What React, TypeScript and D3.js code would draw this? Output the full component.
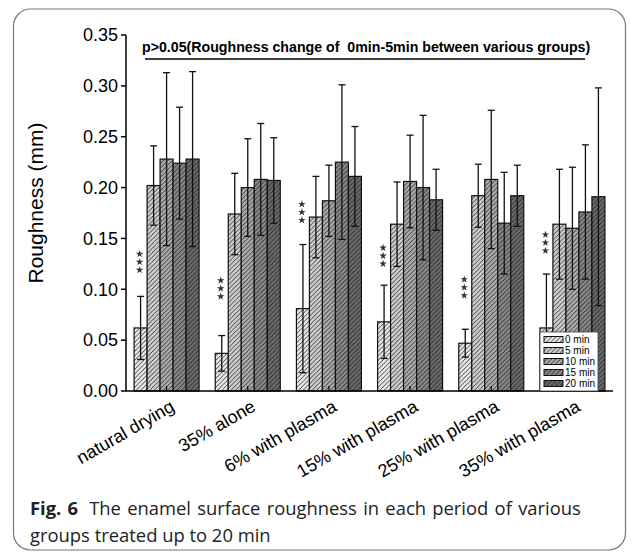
import React from 'react';
import * as d3 from 'd3';

// values (mm)
const groups = ['natural drying', '35% alone', '6% with plasma', '15% with plasma', '25% with plasma', '35% with plasma'];
const series = ['0 min', '5 min', '10 min', '15 min', '20 min'];
const means = [
  [0.062, 0.202, 0.228, 0.224, 0.228],
  [0.037, 0.174, 0.2, 0.208, 0.207],
  [0.081, 0.171, 0.187, 0.225, 0.211],
  [0.068, 0.164, 0.206, 0.2, 0.188],
  [0.047, 0.192, 0.208, 0.165, 0.192],
  [0.062, 0.164, 0.16, 0.176, 0.191],
];
const sds = [
  [0.031, 0.039, 0.085, 0.055, 0.086],
  [0.0175, 0.04, 0.048, 0.055, 0.042],
  [0.063, 0.04, 0.035, 0.076, 0.049],
  [0.036, 0.0415, 0.0455, 0.071, 0.03],
  [0.0137, 0.031, 0.068, 0.05, 0.03],
  [0.053, 0.054, 0.06, 0.066, 0.107],
];
// level (mm) of the lowest "*" of the *** mark over the 0 min bar
const starLevels = [0.119, 0.093, 0.168, 0.125, 0.094, 0.138];
const yTicks = [0, 0.05, 0.1, 0.15, 0.2, 0.25, 0.3, 0.35];
const title = 'p>0.05(Roughness change of  0min-5min between various groups)';
const fills = ['#e8e8e8', '#cdcdcd', '#aaaaaa', '#878787', '#686868'];

const W = 634;
const H = 555;
const margin = { left: 126, right: 21, top: 35, bottom: 164 };
const font = 'Liberation Sans, Arial, sans-serif';
const capFont = 'Open Sans, Noto Sans, sans-serif';

const App = () => {
  const x0 = d3.scaleBand().domain(groups).range([margin.left, W - margin.right]);
  const bw = x0.bandwidth();
  const x1 = d3.scaleBand().domain(series).range([(bw - 65) / 2, (bw + 65) / 2]);
  const y = d3.scaleLinear().domain([0, 0.35]).range([H - margin.bottom, margin.top]);
  const star = d3.symbol(d3.symbolStar, 18)();
  const fmt = d3.format('.2f');
  const base = y(0);

  return (
    <svg width={W} height={H} style={{ position: 'absolute', left: 0, top: 0 }} fontFamily={font}>
      <defs>
        {fills.map((f, i) => (
          <pattern key={i} id={`hatch${i}`} patternUnits="userSpaceOnUse" width={4.5} height={4.5}>
            <rect width={4.5} height={4.5} fill={f} />
            <path d="M0,4.5 L4.5,0 M-1,1 L1,-1 M3.5,5.5 L5.5,3.5" stroke="#1a1a1a" strokeWidth={0.8} />
          </pattern>
        ))}
      </defs>
      <rect x={13.5} y={9} width={612} height={541} rx={17} fill="none" stroke="#777" strokeWidth={1.2} />

      {/* bars */}
      {groups.map((g, gi) => (
        <g key={g} transform={`translate(${x0(g)},0)`}>
          {series.map((s, si) => (
            <rect key={s} x={x1(s)} y={y(means[gi][si])} width={x1.bandwidth()}
              height={base - y(means[gi][si])} fill={`url(#hatch${si})`} stroke="#111" strokeWidth={1.2} />
          ))}
        </g>
      ))}

      {/* error bars */}
      {groups.map((g, gi) => (
        <g key={g} transform={`translate(${x0(g)},0)`} stroke="#111" strokeWidth={1.3}>
          {series.map((s, si) => {
            const cx = (x1(s) as number) + x1.bandwidth() / 2;
            const hi = y(means[gi][si] + sds[gi][si]);
            const lo = y(Math.max(0, means[gi][si] - sds[gi][si]));
            return (
              <g key={s}>
                <line x1={cx} x2={cx} y1={hi} y2={lo} />
                <line x1={cx - 3.5} x2={cx + 3.5} y1={hi} y2={hi} />
                <line x1={cx - 3.5} x2={cx + 3.5} y1={lo} y2={lo} />
              </g>
            );
          })}
        </g>
      ))}

      {/* significance stars */}
      {groups.map((g, gi) => {
        const cx = (x0(g) as number) + (x1(series[0]) as number) + x1.bandwidth() / 2 - 1;
        return [0, 1, 2].map(k => (
          <path key={`${g}${k}`} d={star as string} fill="#333"
            transform={`translate(${cx},${y(starLevels[gi]) - k * 8})`} />
        ));
      })}

      {/* y axis */}
      <line x1={margin.left} x2={margin.left} y1={y(0.35)} y2={base} stroke="#000" strokeWidth={1.5} />
      {yTicks.map(t => (
        <g key={t} transform={`translate(0,${y(t)})`}>
          <line x1={margin.left - 5} x2={margin.left} stroke="#000" strokeWidth={1.5} />
          <text x={margin.left - 8} dy="0.35em" textAnchor="end" fontSize={18}>{fmt(t)}</text>
        </g>
      ))}
      <text transform={`translate(43,203) rotate(-90)`} textAnchor="middle" fontSize={21}>
        Roughness (mm)
      </text>

      {/* x axis */}
      <line x1={margin.left} x2={W - margin.right} y1={base} y2={base} stroke="#000" strokeWidth={1.5} />
      {groups.map(g => {
        const cx = (x0(g) as number) + bw / 2;
        return (
          <g key={g}>
            <line x1={cx} x2={cx} y1={base} y2={base - 5} stroke="#000" strokeWidth={1.2} />
            <text transform={`translate(${cx + 9},${base + 19}) rotate(-30)`} textAnchor="end" fontSize={18}>{g}</text>
          </g>
        );
      })}

      {/* title with underline */}
      <text x={142} y={52} fontSize={14.2} fontWeight="bold" style={{ whiteSpace: 'pre' }}>{title}</text>
      <line x1={145} x2={585} y1={59} y2={59} stroke="#000" strokeWidth={1.3} />

      {/* legend */}
      <g transform="translate(540,332)">
        <rect width={58} height={59} fill="#fff" stroke="#444" strokeWidth={0.8} />
        {series.map((s, i) => (
          <g key={s} transform={`translate(0,${7.5 + i * 11})`}>
            <rect x={4} y={-3} width={19} height={6} fill={`url(#hatch${i})`} stroke="#111" strokeWidth={1} />
            <text x={25} dy="0.35em" fontSize={10}>{s}</text>
          </g>
        ))}
      </g>

      {/* caption */}
      <text x={30} y={515} fontSize={18.4} fontFamily={capFont} fill="#222" wordSpacing={1.5}>
        <tspan fontWeight="bold">Fig. 6</tspan>
        <tspan dx={11}>The enamel surface roughness in each period of various</tspan>
      </text>
      <text x={30} y={542} fontSize={18.4} fontFamily={capFont} fill="#222">
        groups treated up to 20 min
      </text>
    </svg>
  );
};

export default App;
